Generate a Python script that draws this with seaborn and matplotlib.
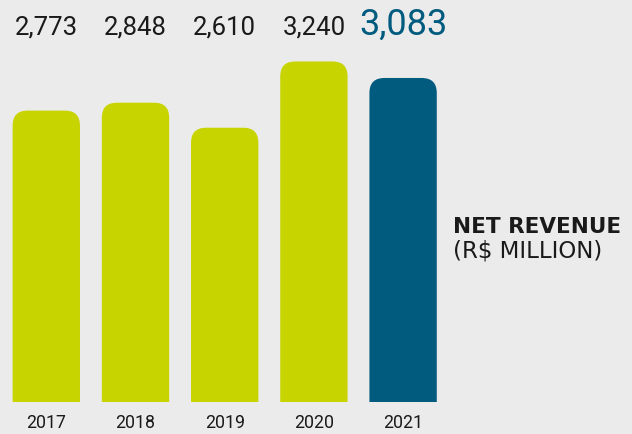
import matplotlib
matplotlib.use("Agg")
import matplotlib.pyplot as plt
import seaborn as sns
import pandas as pd
from matplotlib.patches import FancyBboxPatch

# Net revenue by year (R$ million)
years = ["2017", "2018", "2019", "2020", "2021"]
revenue = [2773, 2848, 2610, 3240, 3083]
value_labels = ["2,773", "2,848", "2,610", "3,240", "3,083"]
highlight_year = "2021"

LIME = "#c8d400"
TEAL = "#005b7f"
BG = "#ebebeb"
INK = "#1a1a1a"

df = pd.DataFrame({"year": years, "revenue": revenue})
df["group"] = ["highlight" if y == highlight_year else "base" for y in years]

sns.set_theme(style="white")
plt.rcParams["font.family"] = ["Roboto", "DejaVu Sans"]

W, H = 632, 434
fig = plt.figure(figsize=(W / 100, H / 100), dpi=100, facecolor=BG)
base_px = 31.7
ax = fig.add_axes([0, base_px / H, 1, 1 - base_px / H])
ax.set_facecolor(BG)

sns.barplot(data=df, x="year", y="revenue", hue="group",
            palette={"base": LIME, "highlight": TEAL}, dodge=False,
            width=0.755, saturation=1, legend=False, ax=ax)

# pixel scale of the axes
x_per_px = 1 / 89.2
y_per_px = 9.506
ax.set_xlim(-46.3 * x_per_px, (W - 46.3) * x_per_px)
ax.set_ylim(0, (H - base_px) * y_per_px)

# rounded tops: swap each rectangle for a rounded box whose lower corners sit below zero
radius_px = 15
rx, ry = radius_px * x_per_px, radius_px * y_per_px
bars = list(ax.patches)
for p in bars:
    x, w, h = p.get_x(), p.get_width(), p.get_height()
    color = p.get_facecolor()
    p.remove()
    ax.add_patch(FancyBboxPatch((x, -ry), w, h + ry,
                                boxstyle=f"round,pad=0,rounding_size={rx}",
                                mutation_aspect=ry / rx,
                                fc=color, ec="none", lw=0))

# value labels along the top
label_y = (H - 35 - base_px) / (H - base_px)
for i, (yr, lab) in enumerate(zip(years, value_labels)):
    if yr == highlight_year:
        ax.text(i, label_y, lab, transform=ax.get_xaxis_transform(),
                ha="center", va="baseline", fontsize=26, color=TEAL)
    else:
        ax.text(i, label_y, lab, transform=ax.get_xaxis_transform(),
                ha="center", va="baseline", fontsize=18.5, color=INK)

for s in ax.spines.values():
    s.set_visible(False)
ax.set_xlabel("")
ax.set_ylabel("")
ax.set_yticks([])
ax.tick_params(axis="x", length=0, pad=8.4, labelsize=12.8, labelcolor=INK)

fig.text(453 / W, 1 - 232.7 / H, "NET REVENUE", family="DejaVu Sans",
         fontweight="bold", fontsize=15.5, color=INK, ha="left", va="baseline")
fig.text(453 / W, 1 - 257.7 / H, "(R$ MILLION)", family="DejaVu Sans",
         fontsize=16.5, color=INK, ha="left", va="baseline")

fig.savefig("out.png", dpi=100, facecolor=BG)
